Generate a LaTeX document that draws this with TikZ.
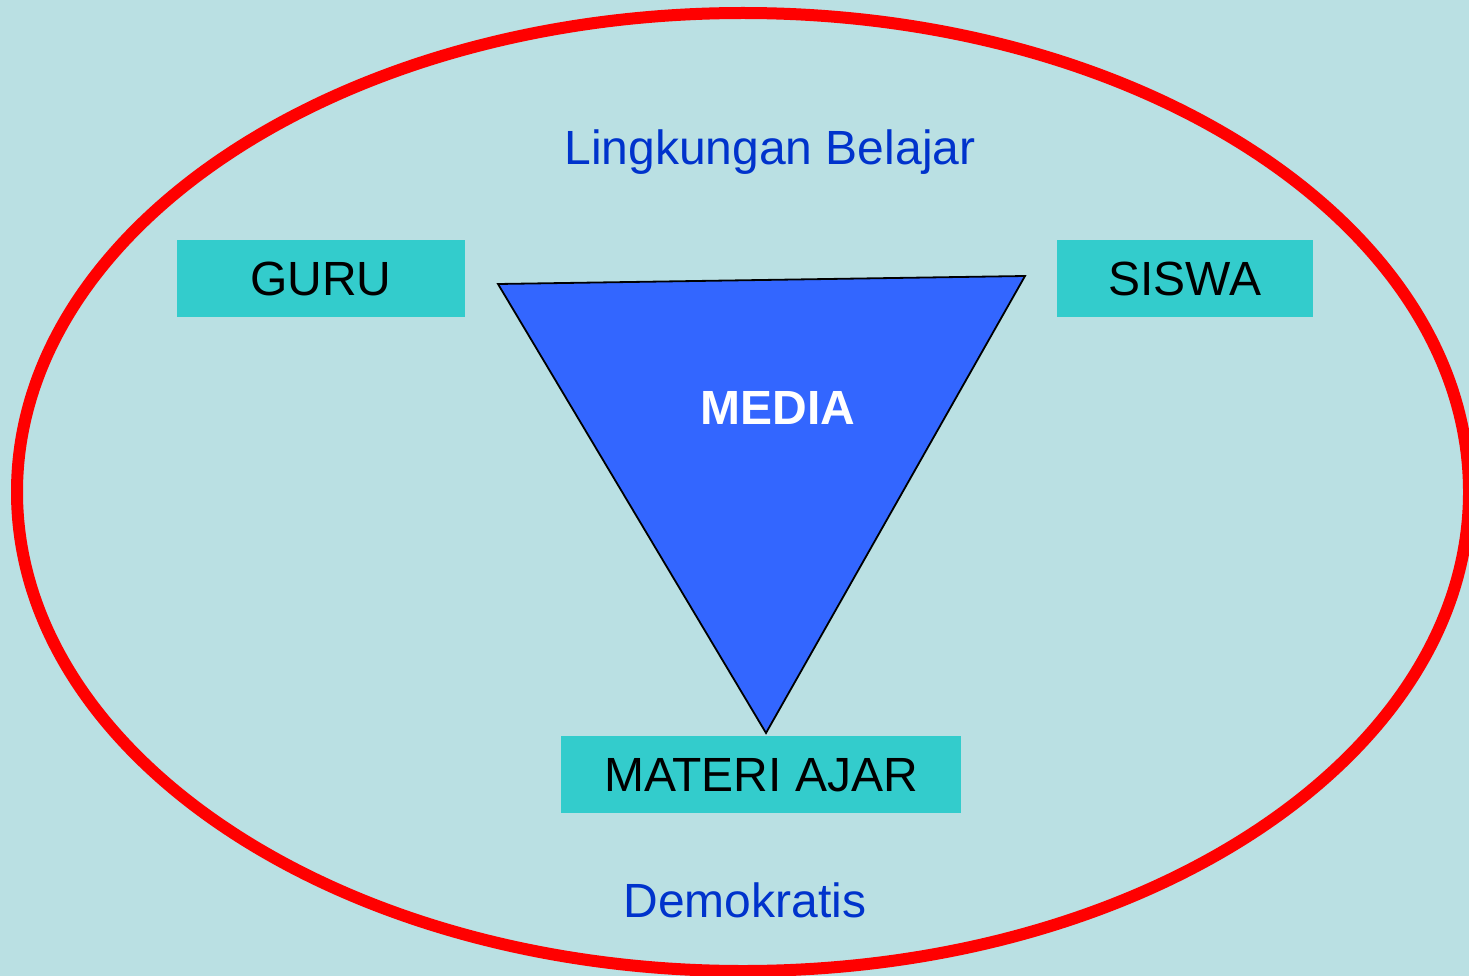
\documentclass[tikz,border=0pt]{standalone}
\usepackage{fontspec}
\setmainfont{Liberation Sans}
\usepackage{xcolor}
\usepackage{tikz}
\usetikzlibrary{positioning}

\definecolor{BgCyan}{HTML}{BAE0E3}
\definecolor{BoxTeal}{HTML}{33CCCC}
\definecolor{MediaBlue}{HTML}{3366FF}
\definecolor{TextBlue}{HTML}{0033CC}

\tikzset{
    role/.style={fill=BoxTeal, inner sep=0pt, minimum height=77pt, text height=34.4pt, text depth=0pt, font=\fontsize{48}{58}\selectfont},
    caption/.style={TextBlue, anchor=base, inner sep=0pt, font=\fontsize{48}{58}\selectfont}
}

\begin{document}
\begin{tikzpicture}[x=1pt, y=-1pt]
        \useasboundingbox (0,0) rectangle (1469,976);
        \fill [BgCyan] (0,0) rectangle (1469,976);

        \draw [red, line width=12pt] (743,492) ellipse [x radius=726, y radius=479];

        \node[caption] (lingkungan) at (770,165) {Lingkungan Belajar};
        \node[caption] (demokratis) at (745,917) {Demokratis};

        \coordinate (kiri) at (498,284);
        \coordinate (kanan) at (1025,276);
        \coordinate (bawah) at (766,733);
        \draw [fill=MediaBlue, line width=1.8pt, line join=miter] (kiri) -- (kanan) -- (bawah) -- cycle;
        \node[white, anchor=base, inner sep=0pt, font=\fontsize{48}{58}\selectfont\bfseries] (media) at (778,424) {MEDIA};

        \node[role, minimum width=288pt] (guru) at (321,278.5) {GURU};
        \node[role, minimum width=256pt] (siswa) at (1185,278.5) {SISWA};
        \node[role, minimum width=400pt] (materi) at (761,774.5) {MATERI AJAR};
    \end{tikzpicture}
\end{document}
